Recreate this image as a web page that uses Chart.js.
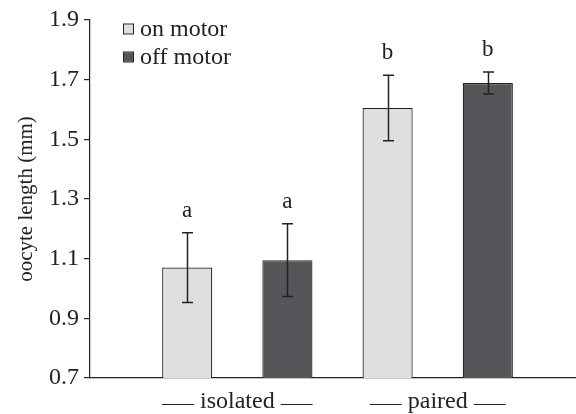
<!DOCTYPE html>
<html>
<head>
<meta charset="utf-8">
<script src="https://cdn.jsdelivr.net/npm/chart.js@4"></script>
<style>
  html, body { margin: 0; padding: 0; background: #fff; }
  #wrap { width: 576px; height: 414px; }
</style>
</head>
<body>
<div id="wrap"><canvas id="chartOocyte" width="576" height="414"></canvas></div>
<script>
const groups = ['isolated', 'paired'];
const seriesNames = ['on motor', 'off motor'];
const onMotor = [1.070, 1.605];
const offMotor = [1.095, 1.689];
const onMotorErr = [0.117, 0.110];
const offMotorErr = [0.122, 0.037];
const onLetters = ['a', 'b'];
const offLetters = ['a', 'b'];
const yTicks = [0.7, 0.9, 1.1, 1.3, 1.5, 1.7, 1.9];

const FONT = '"Liberation Serif", "Times New Roman", serif';
const INK = '#222';
const COLORS = ['#dedfe1', '#545659'];

function points(vals) {
    return vals.map((v, i) => ({ x: i, y: v }));
}

// error bars + significance letters
const errorBars = {
    id: 'errorBars',
    afterDatasetsDraw(chart) {
        const ctx = chart.ctx;
        const yScale = chart.scales.y;
        const errs = [onMotorErr, offMotorErr];
        const letters = [onLetters, offLetters];
        ctx.save();
        ctx.strokeStyle = INK;
        ctx.lineWidth = 1.5;
        ctx.fillStyle = INK;
        ctx.font = '23px ' + FONT;
        ctx.textAlign = 'center';
        ctx.textBaseline = 'alphabetic';
        chart.data.datasets.forEach((ds, di) => {
            const meta = chart.getDatasetMeta(di);
            meta.data.forEach((bar, i) => {
                const v = ds.data[i].y;
                const top = yScale.getPixelForValue(v + errs[di][i]);
                const bot = yScale.getPixelForValue(v - errs[di][i]);
                const x = Math.round(bar.x) + 0.5;
                ctx.beginPath();
                ctx.moveTo(x, top);
                ctx.lineTo(x, bot);
                ctx.moveTo(x - 5.5, top);
                ctx.lineTo(x + 5.5, top);
                ctx.moveTo(x - 5.5, bot);
                ctx.lineTo(x + 5.5, bot);
                ctx.stroke();
                ctx.fillText(letters[di][i], bar.x, top - 16);
            });
        });
        ctx.restore();
    }
};

// legend in the top left of the plot, and the rules beside the group names
const insideLegend = {
    id: 'insideLegend',
    afterDraw(chart) {
        const ctx = chart.ctx;
        ctx.save();
        ctx.font = '24px ' + FONT;
        ctx.textBaseline = 'middle';
        chart.data.datasets.forEach((ds, i) => {
            const cy = 29 + i * 28;
            ctx.fillStyle = ds.backgroundColor;
            ctx.fillRect(124, cy - 4.5, 9, 9);
            ctx.strokeStyle = INK;
            ctx.lineWidth = 1;
            ctx.strokeRect(123.5, cy - 5, 10, 10);
            ctx.fillStyle = INK;
            ctx.fillText(ds.label, 140, cy + 1);
        });

        const xScale = chart.scales.x;
        ctx.strokeStyle = INK;
        ctx.lineWidth = 1;
        groups.forEach((g, i) => {
            const cx = xScale.getPixelForValue(i);
            const w = ctx.measureText(g).width;
            const y = 404.5;
            ctx.beginPath();
            ctx.moveTo(cx - w / 2 - 38, y);
            ctx.lineTo(cx - w / 2 - 6, y);
            ctx.moveTo(cx + w / 2 + 6, y);
            ctx.lineTo(cx + w / 2 + 38, y);
            ctx.stroke();
        });
        ctx.restore();
    }
};

const data = {
    datasets: [
        {
            label: seriesNames[0],
            data: points(onMotor),
            backgroundColor: COLORS[0],
            borderColor: INK,
            borderWidth: 1.2
        },
        {
            label: seriesNames[1],
            data: points(offMotor),
            backgroundColor: COLORS[1],
            borderColor: INK,
            borderWidth: 1.2
        }
    ]
};

const config = {
    type: 'bar',
    data: data,
    options: {
        responsive: false,
        animation: false,
        barPercentage: 0.5,
        categoryPercentage: 1,
        layout: { padding: { top: 20, right: 0, left: 0, bottom: 0 } },
        plugins: {
            legend: { display: false },
            tooltip: { enabled: false }
        },
        scales: {
            x: {
                type: 'linear',
                offset: false,
                min: -0.735,
                max: 1.69,
                afterBuildTicks: (scale) => {
                    scale.ticks = groups.map((g, i) => ({ value: i }));
                },
                afterFit: (scale) => { scale.height = 36; },
                grid: { display: false, offset: false },
                border: { display: true, color: INK, width: 1.2 },
                ticks: {
                    color: INK,
                    font: { family: FONT, size: 24 },
                    padding: 1,
                    maxRotation: 0,
                    callback: (v) => groups[v]
                }
            },
            y: {
                min: 0.7,
                max: 1.9,
                afterBuildTicks: (scale) => {
                    scale.ticks = yTicks.map(v => ({ value: v }));
                },
                afterFit: (scale) => { scale.width = 90; },
                grid: {
                    drawOnChartArea: false,
                    drawTicks: true,
                    tickLength: 6,
                    color: INK,
                    lineWidth: 1.2
                },
                border: { display: true, color: INK, width: 1.2 },
                ticks: {
                    color: INK,
                    font: { family: FONT, size: 24 },
                    padding: 5,
                    callback: (v) => Number(v).toFixed(1)
                },
                title: {
                    display: true,
                    text: 'oocyte length (mm)',
                    color: INK,
                    font: { family: FONT, size: 21 },
                    padding: { top: 14, bottom: 0 }
                }
            }
        }
    },
    plugins: [errorBars, insideLegend]
};

new Chart(document.getElementById('chartOocyte'), config);
</script>
</body>
</html>
